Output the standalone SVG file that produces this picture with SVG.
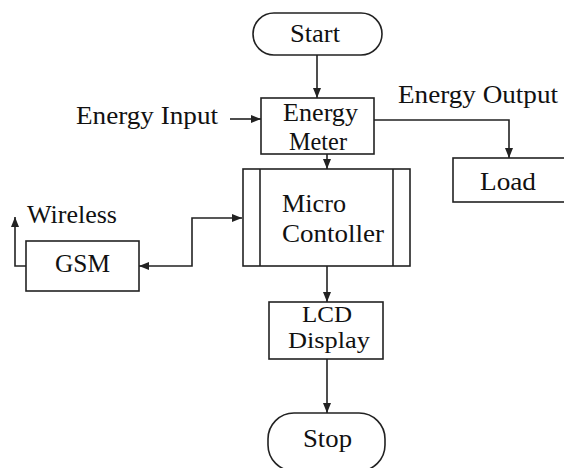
<svg xmlns="http://www.w3.org/2000/svg" width="564" height="468" viewBox="0 0 564 468" font-family="Liberation Serif, Times New Roman, serif" font-size="25">
<style>
.box{fill:#fff;stroke:#222;stroke-width:1.6}
.ln{fill:none;stroke:#222;stroke-width:1.6}
.t{fill:#111}
</style>
<defs>
<marker id="ah" markerWidth="10" markerHeight="8" refX="10" refY="4" orient="auto" markerUnits="userSpaceOnUse">
<path d="M0,0 L10,4 L0,8 Z" fill="#222"/>
</marker>
<marker id="ahs" markerWidth="10" markerHeight="8" refX="10" refY="4" orient="auto-start-reverse" markerUnits="userSpaceOnUse">
<path d="M0,0 L10,4 L0,8 Z" fill="#222"/>
</marker>
</defs>
<rect width="564" height="468" fill="#fff"/>
<g id="connectors">
<line class="ln" x1="317" y1="55" x2="317" y2="98" marker-end="url(#ah)"/>
<line class="ln" x1="230" y1="119" x2="261" y2="119" marker-end="url(#ah)"/>
<polyline class="ln" points="374,120 509,120 509,158" marker-end="url(#ah)"/>
<line class="ln" x1="327" y1="154" x2="327" y2="169" marker-end="url(#ah)"/>
<polyline class="ln" points="139,266 192,266 192,218 242,218" marker-start="url(#ahs)" marker-end="url(#ah)"/>
<polyline class="ln" points="26,266 15,266 15,217" marker-end="url(#ah)"/>
<line class="ln" x1="327" y1="266" x2="327" y2="302" marker-end="url(#ah)"/>
<line class="ln" x1="327" y1="359" x2="327" y2="413" marker-end="url(#ah)"/>
</g>
<g id="start">
<rect class="box" x="253" y="13" width="129" height="42" rx="21"/>
<text class="t" x="290" y="42" textLength="50" lengthAdjust="spacingAndGlyphs">Start</text>
</g>
<g id="energy-input">
<text class="t" x="76" y="124" textLength="142" lengthAdjust="spacingAndGlyphs">Energy Input</text>
</g>
<g id="energy-meter">
<rect class="box" x="261" y="98" width="113" height="56"/>
<text class="t" x="283" y="121" textLength="75" lengthAdjust="spacingAndGlyphs">Energy</text>
<text class="t" x="289" y="150" textLength="58" lengthAdjust="spacingAndGlyphs">Meter</text>
</g>
<g id="energy-output">
<text class="t" x="398" y="103" textLength="160" lengthAdjust="spacingAndGlyphs">Energy Output</text>
</g>
<g id="load">
<rect class="box" x="453" y="158" width="115" height="44"/>
<text class="t" x="480" y="190" textLength="56" lengthAdjust="spacingAndGlyphs">Load</text>
</g>
<g id="micro-controller">
<rect class="box" x="243" y="169" width="167" height="97"/>
<line class="ln" x1="260" y1="169" x2="260" y2="266"/>
<line class="ln" x1="393" y1="169" x2="393" y2="266"/>
<text class="t" x="282" y="212" textLength="64" lengthAdjust="spacingAndGlyphs">Micro</text>
<text class="t" x="282" y="242" textLength="102" lengthAdjust="spacingAndGlyphs">Contoller</text>
</g>
<g id="wireless">
<text class="t" x="27" y="223" textLength="90" lengthAdjust="spacingAndGlyphs">Wireless</text>
</g>
<g id="gsm">
<rect class="box" x="26" y="241" width="113" height="50"/>
<text class="t" x="55" y="272" textLength="55" lengthAdjust="spacingAndGlyphs">GSM</text>
</g>
<g id="lcd-display">
<rect class="box" x="269" y="302" width="114" height="57"/>
<text class="t" x="302" y="322" font-size="24" textLength="50" lengthAdjust="spacingAndGlyphs">LCD</text>
<text class="t" x="288" y="348" font-size="24" textLength="82" lengthAdjust="spacingAndGlyphs">Display</text>
</g>
<g id="stop">
<rect class="box" x="268" y="413" width="117" height="58" rx="26"/>
<text class="t" x="303" y="447" textLength="49" lengthAdjust="spacingAndGlyphs">Stop</text>
</g>
</svg>
